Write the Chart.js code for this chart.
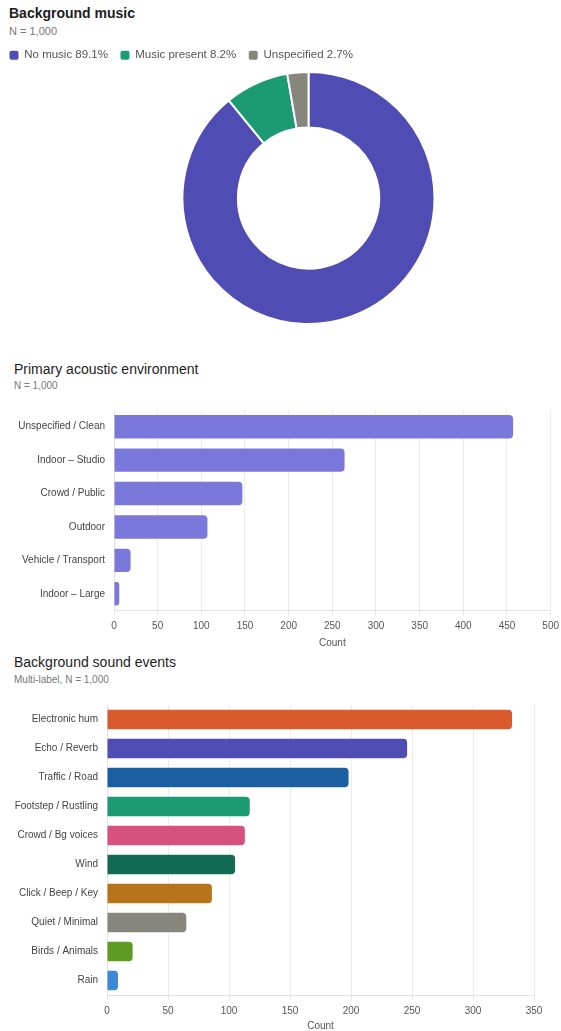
<!DOCTYPE html>
<html>
<head>
<meta charset="utf-8">
<script src="https://cdn.jsdelivr.net/npm/chart.js@4/dist/chart.umd.min.js"></script>
<style>
html,body{margin:0;padding:0;background:#fff;overflow:hidden;width:561px;height:1031px;}
body{position:relative;font-family:"Liberation Sans",Arial,Helvetica,sans-serif;}
.t{position:absolute;white-space:nowrap;color:#1c1c1c;line-height:normal;}
.s{color:#777;}
.box{position:absolute;}
</style>
</head>
<body>
<div class="t" style="left:9px;top:5px;font-size:14px;font-weight:bold;">Background music</div>
<div class="t s" style="left:9px;top:25px;font-size:11px;">N = 1,000</div>
<div class="box" style="left:-3px;top:37px;width:623px;height:288px;"><canvas id="c1"></canvas></div>

<div class="t" style="left:14px;top:361px;font-size:14px;">Primary acoustic environment</div>
<div class="t s" style="left:14px;top:380px;font-size:10px;">N = 1,000</div>
<div class="box" style="left:0;top:395px;width:564px;height:255px;"><canvas id="c2"></canvas></div>

<div class="t" style="left:14px;top:654px;font-size:14px;">Background sound events</div>
<div class="t s" style="left:14px;top:674px;font-size:10px;">Multi-label, N = 1,000</div>
<div class="box" style="left:0;top:690px;width:561px;height:343px;"><canvas id="c3"></canvas></div>

<script>
// ---- data ----
const musicLabels = ['No music', 'Music present', 'Unspecified'];
const musicValues = [891, 82, 27];
const musicColors = ['#4f4cb4', '#1b9a74', '#86867c'];

const envLabels = ['Unspecified / Clean', 'Indoor \u2013 Studio', 'Crowd / Public', 'Outdoor', 'Vehicle / Transport', 'Indoor \u2013 Large'];
const envValues = [457, 264, 147, 107, 19, 6];
const envColor = '#7b78dc';

const eventLabels = ['Electronic hum', 'Echo / Reverb', 'Traffic / Road', 'Footstep / Rustling', 'Crowd / Bg voices', 'Wind', 'Click / Beep / Key', 'Quiet / Minimal', 'Birds / Animals', 'Rain'];
const eventValues = [332, 246, 198, 117, 113, 105, 86, 65, 21, 9];
const eventColors = ['#d95a2c', '#4f4cb4', '#1b5fa3', '#1b9a74', '#d4527d', '#116b55', '#b87419', '#86867c', '#5f9a23', '#3a88d6'];

const FONT = '"Liberation Sans", Arial, Helvetica, sans-serif';
Chart.defaults.font.family = FONT;
Chart.defaults.animation = false;

// ---- doughnut ----
const total = musicValues.reduce((a, b) => a + b, 0);
new Chart(document.getElementById('c1'), {
  type: 'doughnut',
  data: {
    labels: musicLabels,
    datasets: [{ data: musicValues, backgroundColor: musicColors, borderColor: '#fff', borderWidth: 2 }]
  },
  options: {
    responsive: true,
    maintainAspectRatio: false,
    cutout: '56%',
    layout: { padding: 0 },
    plugins: {
      tooltip: { enabled: false },
      legend: {
        position: 'top',
        align: 'start',
        labels: {
          boxWidth: 9,
          boxHeight: 9,
          padding: 12.5,
          color: '#555',
          useBorderRadius: true,
          borderRadius: 2,
          font: { size: 11.5, family: FONT },
          generateLabels: (chart) => {
            const base = Chart.overrides.doughnut.plugins.legend.labels.generateLabels(chart);
            return base.map((it, i) => Object.assign(it, {
              text: musicLabels[i] + ' ' + (musicValues[i] / total * 100).toFixed(1) + '%',
              lineWidth: 0,
              strokeStyle: 'rgba(0,0,0,0)'
            }));
          }
        }
      }
    }
  }
});

// ---- horizontal bar helper ----
function barChart(id, labels, values, colors, yWidth, xHeight, padTop, padRight, xMax, barPct) {
  return new Chart(document.getElementById(id), {
    type: 'bar',
    data: {
      labels: labels,
      datasets: [{
        data: values,
        backgroundColor: colors,
        borderRadius: 4,
        borderSkipped: 'start',
        barPercentage: barPct,
        categoryPercentage: 0.8
      }]
    },
    options: {
      indexAxis: 'y',
      responsive: true,
      maintainAspectRatio: false,
      layout: { padding: { top: padTop, right: padRight, left: 0, bottom: 0 } },
      plugins: { legend: { display: false }, tooltip: { enabled: false } },
      scales: {
        x: {
          min: 0,
          max: xMax,
          ticks: { stepSize: 50, padding: 5, color: '#555', font: { size: 10, family: FONT } },
          grid: { color: '#ececec', drawTicks: true, tickLength: 5, tickColor: '#e6e6e6' },
          border: { color: '#e2e2e2' },
          title: { display: true, text: 'Count', color: '#555', font: { size: 10, family: FONT }, padding: { top: 0, bottom: 1 } },
          afterFit: (s) => { s.height = xHeight; }
        },
        y: {
          ticks: { padding: 9, color: '#444', font: { size: 10, family: FONT } },
          grid: { display: false, drawTicks: false },
          border: { color: '#e2e2e2' },
          afterFit: (s) => { s.width = yWidth; }
        }
      }
    }
  });
}

barChart('c2', envLabels, envValues, envColor, 114, 39.5, 15, 10, 500, 0.875);
barChart('c3', eventLabels, eventValues, eventColors, 107, 38, 13, 27, 350, 0.85);
</script>
</body>
</html>
